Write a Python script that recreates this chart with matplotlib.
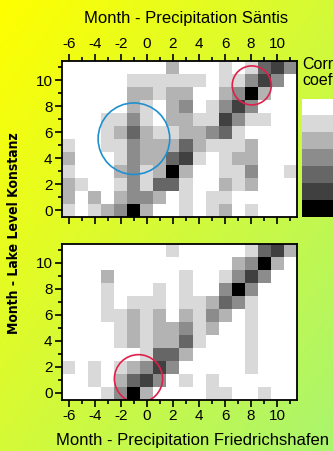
# -*- coding: utf-8 -*-

import numpy as np
import matplotlib
matplotlib.use("Agg")
import matplotlib.pyplot as plt
from matplotlib.colors import ListedColormap, LinearSegmentedColormap
from matplotlib.patches import Circle
from matplotlib.ticker import MultipleLocator

plt.rcParams['font.family'] = ['Liberation Sans', 'DejaVu Sans']
plt.rcParams['axes.unicode_minus'] = False

# month lags (precipitation) and lake level months
lags = np.arange(-6, 12)
months = np.arange(0, 12)

# correlation classes 0 (white) .. 6 (black), rows from month 11 down to month 0
saentis = [
    [0,0,0,0,0,0,0,0,2,0,0,0,1,0,1,4,5,3],
    [0,0,0,0,0,1,1,1,1,1,1,0,1,1,3,5,3,0],
    [0,0,0,0,0,2,2,1,2,2,0,0,2,3,6,2,0,0],
    [0,0,0,0,0,2,1,0,2,3,0,1,3,5,3,0,0,0],
    [0,0,0,1,1,3,1,0,2,2,1,1,5,3,1,1,0,0],
    [0,0,0,1,2,4,2,1,1,2,2,3,4,1,0,0,0,0],
    [1,0,0,1,1,3,2,2,2,4,2,1,1,1,2,0,0,0],
    [2,0,0,0,1,3,2,2,4,5,1,0,1,2,2,0,0,0],
    [1,0,0,0,2,3,1,2,6,2,0,0,1,1,3,0,0,1],
    [2,1,0,0,1,3,1,4,4,1,0,0,2,1,2,0,0,0],
    [2,0,2,0,2,3,3,2,0,1,0,1,1,0,0,0,0,0],
    [1,0,1,2,3,6,2,0,0,1,0,1,2,0,1,0,0,0],
]

friedrichshafen = [
    [0,0,0,0,0,0,0,0,1,0,0,0,0,0,1,4,5,2],
    [0,0,0,0,0,0,0,0,0,0,0,0,0,2,3,6,2,0],
    [0,0,0,2,0,0,0,0,0,1,0,0,1,3,5,3,0,0],
    [0,0,0,1,0,0,0,1,0,1,0,0,3,6,3,0,0,0],
    [0,0,0,1,0,1,1,1,0,1,1,2,4,3,1,0,0,0],
    [0,0,0,1,1,2,1,2,0,2,1,3,2,0,1,0,0,0],
    [0,0,0,0,1,2,1,2,2,3,1,2,0,0,1,0,0,0],
    [0,0,0,0,1,2,1,2,2,4,1,0,0,0,1,0,0,0],
    [0,0,0,0,0,0,1,4,4,2,0,0,0,0,1,0,0,0],
    [1,0,1,0,1,2,3,5,3,0,0,0,0,0,1,0,0,0],
    [0,0,1,0,2,4,5,3,0,1,0,1,0,0,0,0,0,0],
    [0,0,0,1,3,6,2,0,0,0,0,1,1,0,0,1,0,0],
]

gray_levels = ['#ffffff', '#d9d9d9', '#b3b3b3', '#8c8c8c', '#666666', '#404040', '#000000']

# highlighted areas: (lag, month, radius, colour)
circles_top = [(-1.0, 5.5, 2.75, '#1e90d0'), (8.05, 9.6, 1.5, '#e0204a')]
circles_bottom = [(-0.65, 1.1, 1.85, '#e0204a')]

cmap = ListedColormap(gray_levels)
W, H = 333, 451
fig = plt.figure(figsize=(W / 100, H / 100), dpi=100)

# background gradient yellow -> light green
bg = fig.add_axes([0, 0, 1, 1], zorder=-10)
gx, gy = np.meshgrid(np.linspace(0, 1, 200), np.linspace(0, 1, 200))
grad = (gx + gy) / 2
bgcmap = LinearSegmentedColormap.from_list('bg', ['#ffff00', '#aaf56e'])
bg.imshow(grad, cmap=bgcmap, aspect='auto', extent=[0, 1, 0, 1], origin='upper')
bg.axis('off')

ext = [lags[0] - 0.5, lags[-1] + 0.5, months[0] - 0.5, months[-1] + 0.5]


def draw_panel(ax, data, circles):
    ax.imshow(np.array(data), cmap=cmap, vmin=-0.5, vmax=6.5, extent=ext,
              origin='upper', aspect='auto', interpolation='nearest')
    for cx, cy, r, c in circles:
        ax.add_patch(Circle((cx, cy), r, fill=False, ec=c, lw=1.2))
    ax.set_xlim(ext[0], ext[1])
    ax.set_ylim(ext[2], ext[3])
    ax.xaxis.set_major_locator(MultipleLocator(2))
    ax.xaxis.set_minor_locator(MultipleLocator(1))
    ax.yaxis.set_major_locator(MultipleLocator(2))
    ax.yaxis.set_minor_locator(MultipleLocator(1))
    ax.set_xticks(np.arange(-6, 12, 2))
    ax.set_yticks(np.arange(0, 12, 2))
    for s in ax.spines.values():
        s.set_linewidth(1.3)
    ax.tick_params(which='both', direction='out', width=1.2, labelsize=11, pad=2)
    ax.tick_params(which='major', length=5)
    ax.tick_params(which='minor', length=3)


ax1 = fig.add_axes([62.3 / W, 1 - 216.7 / H, 234.4 / W, 156 / H])
draw_panel(ax1, saentis, circles_top)
ax1.tick_params(which='both', top=True, bottom=True, labeltop=True, labelbottom=False)

ax2 = fig.add_axes([62.3 / W, 1 - 399.5 / H, 234.4 / W, 156 / H])
draw_panel(ax2, friedrichshafen, circles_bottom)
ax2.tick_params(which='both', top=False, bottom=True)

# colour scale (cut off at right edge, as in the original)
cax = fig.add_axes([302 / W, 1 - 217 / H, 45 / W, 118 / H])
cax.imshow(np.arange(7).reshape(-1, 1), cmap=cmap, aspect='auto', origin='upper')
cax.axis('off')

fig.text(186 / W, 1 - 19 / H, 'Month - Precipitation Säntis', ha='center', va='center', fontsize=12)
fig.text(193 / W, 1 - 441 / H, 'Month - Precipitation Friedrichshafen', ha='center', va='center', fontsize=12)
fig.text(14 / W, 1 - 233 / H, 'Month - Lake Level Konstanz', rotation=90, ha='center', va='center',
         fontsize=10, family='DejaVu Sans', fontstretch='condensed', fontweight='bold')
fig.text(302 / W, 1 - 57 / H, 'Correlation\ncoefficient', ha='left', va='top', fontsize=11.5, linespacing=1.1)

fig.savefig('out.png', dpi=100)
